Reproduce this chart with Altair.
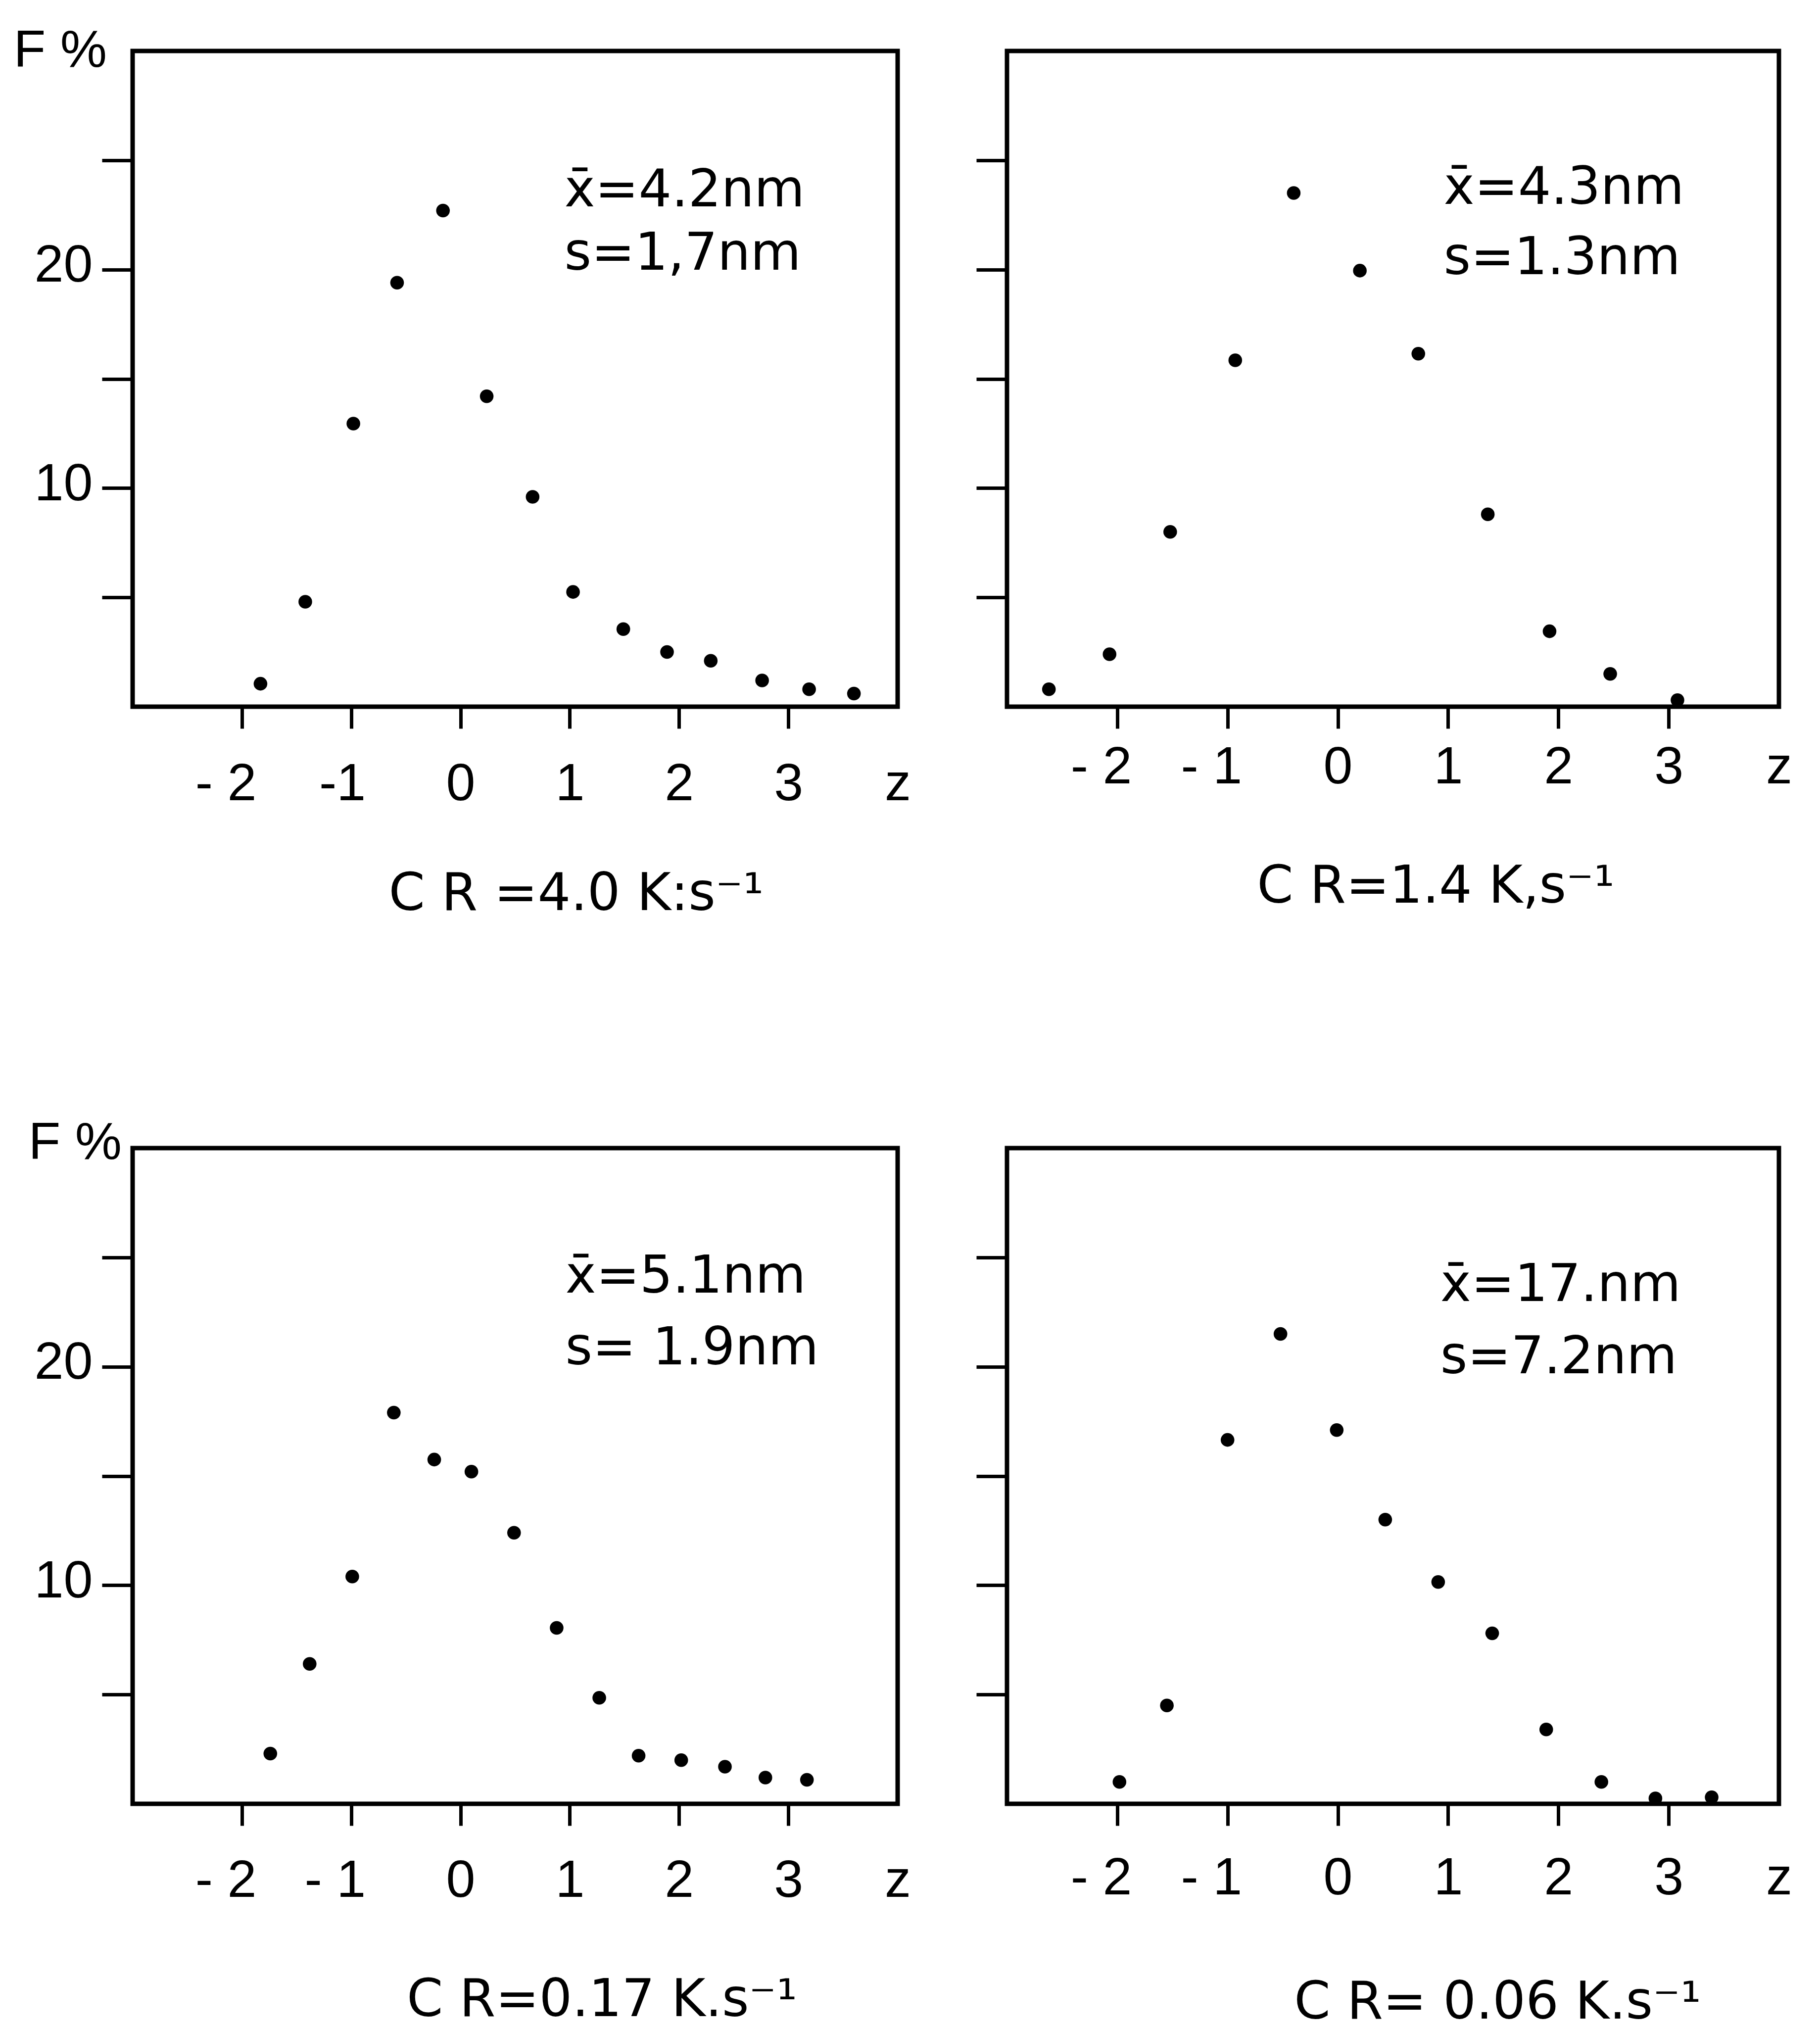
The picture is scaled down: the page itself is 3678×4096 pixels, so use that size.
import altair as alt
import pandas as pd

# ---- measured size distributions: reduced size z against frequency F (%) ----
z_cr40 = [-1.83, -1.42, -0.98, -0.58, -0.16, 0.24, 0.66, 1.03, 1.49, 1.89, 2.29, 2.76, 3.19, 3.60]
f_cr40 = [1.05, 4.8, 12.95, 19.4, 22.7, 14.2, 9.6, 5.25, 3.55, 2.5, 2.1, 1.2, 0.8, 0.6]

z_cr14 = [-2.62, -2.07, -1.52, -0.93, -0.40, 0.20, 0.73, 1.36, 1.92, 2.47, 3.08]
f_cr14 = [0.8, 2.4, 8.0, 15.85, 23.5, 19.95, 16.15, 8.8, 3.45, 1.5, 0.3]

z_cr017 = [-1.74, -1.38, -0.99, -0.61, -0.24, 0.10, 0.49, 0.88, 1.27, 1.63, 2.02, 2.42, 2.79, 3.17]
f_cr017 = [2.3, 6.4, 10.4, 17.9, 15.75, 15.2, 12.4, 8.05, 4.85, 2.2, 2.0, 1.7, 1.2, 1.1]

z_cr006 = [-1.98, -1.55, -1.00, -0.52, -0.01, 0.43, 0.91, 1.40, 1.89, 2.39, 2.88, 3.39]
f_cr006 = [1.0, 4.5, 16.65, 21.5, 17.1, 13.0, 10.15, 7.8, 3.4, 1.0, 0.25, 0.3]

# mean size and standard deviation written in each panel
stats_cr40 = ["x\u0304=4.2nm", "s=1,7nm"]
stats_cr14 = ["x\u0304=4.3nm", "s=1.3nm"]
stats_cr017 = ["x\u0304=5.1nm", "s= 1.9nm"]
stats_cr006 = ["x\u0304=17.nm", "s=7.2nm"]

# cooling-rate captions
cr_labels = [
    "C R =4.0 K:s\u207b\u00b9",
    "C R=1.4 K,s\u207b\u00b9",
    "C R=0.17 K.s\u207b\u00b9",
    "C R= 0.06 K.s\u207b\u00b9",
]

# axis ticks
x_tick_values = [-2, -1, 0, 1, 2, 3, 4]
x_tick_text_a = ["- 2", "-1", "0", "1", "2", "3", "z"]
x_tick_text_b = ["- 2", "- 1", "0", "1", "2", "3", "z"]
y_tick_values = [5, 10, 15, 20, 25]
y_tick_text = ["", "10", "", "20", ""]

LABEL_FONT = "Liberation Sans"
TEXT_FONT = "DejaVu Sans"
LABEL_SIZE = 106
TEXT_SIZE = 105
PLOT_H = 1325


def label_expr(values, texts):
    expr = "''"
    for v, t in reversed(list(zip(values, texts))):
        expr = f"datum.value == {v} ? '{t}' : ({expr})"
    return expr


def panel(z, f, stats, stat_pos, caption, caption_pos, width, x_texts,
          x_label_pad, f_title=None):
    points = pd.DataFrame({"z": z, "F": f})
    notes = pd.DataFrame({"z": [stat_pos[0]] * 2, "F": stat_pos[1:], "t": stats})

    x_axis = alt.Axis(
        values=x_tick_values,
        labelExpr=label_expr(x_tick_values, x_texts),
        tickSize=44,
        tickWidth=7,
        labelPadding=x_label_pad,
        labelBaseline="alphabetic",
        labelAlign={"condition": {"test": "datum.value < 0", "value": "right"}, "value": "center"},
        labelOffset={"condition": {"test": "datum.value < 0", "value": 29}, "value": 0},
        tickOpacity={"condition": {"test": "datum.value > 3.5", "value": 0}, "value": 1},
        labelFlush=False,
        labelOverlap=False,
        title=caption,
        titleX=caption_pos[0],
        titleY=caption_pos[1],
        titleAlign="center",
        titleAnchor="start",
        titleBaseline="alphabetic",
        titleFont=TEXT_FONT,
        titleFontSize=TEXT_SIZE,
    )

    y_kwargs = dict(
        values=y_tick_values,
        tickSize=62,
        tickWidth=7,
        labelPadding=19,
        labelBaseline="alphabetic",
        labelOffset=24,
    )
    if f_title is not None:
        y_axis = alt.Axis(
            labelExpr=label_expr(y_tick_values, y_tick_text),
            title="F %",
            titleAngle=0,
            titleAlign="left",
            titleBaseline="alphabetic",
            titleX=f_title[0],
            titleY=f_title[1],
            titleFont=LABEL_FONT,
            titleFontSize=LABEL_SIZE,
            **y_kwargs,
        )
    else:
        y_axis = alt.Axis(labels=False, title="", **y_kwargs)

    x_enc = alt.X("z:Q", scale=alt.Scale(domain=[-3, 4], nice=False, zero=False), axis=x_axis)
    y_enc = alt.Y("F:Q", scale=alt.Scale(domain=[0, 30], nice=False, zero=False), axis=y_axis)

    dots = alt.Chart(points).mark_circle(size=760, color="black", opacity=1)
    text = alt.Chart(notes).mark_text(
        align="left", baseline="alphabetic", font=TEXT_FONT, fontSize=TEXT_SIZE, color="black"
    ).encode(text="t:N")

    return alt.layer(dots, text).encode(x=x_enc, y=y_enc).properties(width=width, height=PLOT_H)


p1 = panel(z_cr40, f_cr40, stats_cr40, (0.95, 22.9, 20.0), cr_labels[0], (896, 410),
           1546, x_tick_text_a, 144, f_title=(-241, 31))
p2 = panel(z_cr14, f_cr14, stats_cr14, (0.96, 23.0, 19.8), cr_labels[1], (866, 395),
           1560, x_tick_text_b, 110)
p3 = panel(z_cr017, f_cr017, stats_cr017, (0.96, 23.4, 20.1), cr_labels[2], (948, 428),
           1546, x_tick_text_b, 143, f_title=(-211, 21))
p4 = panel(z_cr006, f_cr006, stats_cr006, (0.93, 23.0, 19.7), cr_labels[3], (991, 433),
           1560, x_tick_text_b, 138)

chart = (
    alt.concat(p1, p2, p3, p4, columns=2, spacing={"row": 892, "column": 221}, bounds="flush")
    .properties(padding={"left": 22, "top": 44, "right": 20, "bottom": 10}, background="white")
    .configure_view(stroke="black", strokeWidth=9)
    .configure_axis(
        domain=False,
        grid=False,
        labelFont=LABEL_FONT,
        labelFontSize=LABEL_SIZE,
        labelColor="black",
        tickColor="black",
        titleColor="black",
        titleFontWeight="normal",
    )
)

chart.save("out.html", embed_options={"renderer": "svg", "actions": False})
